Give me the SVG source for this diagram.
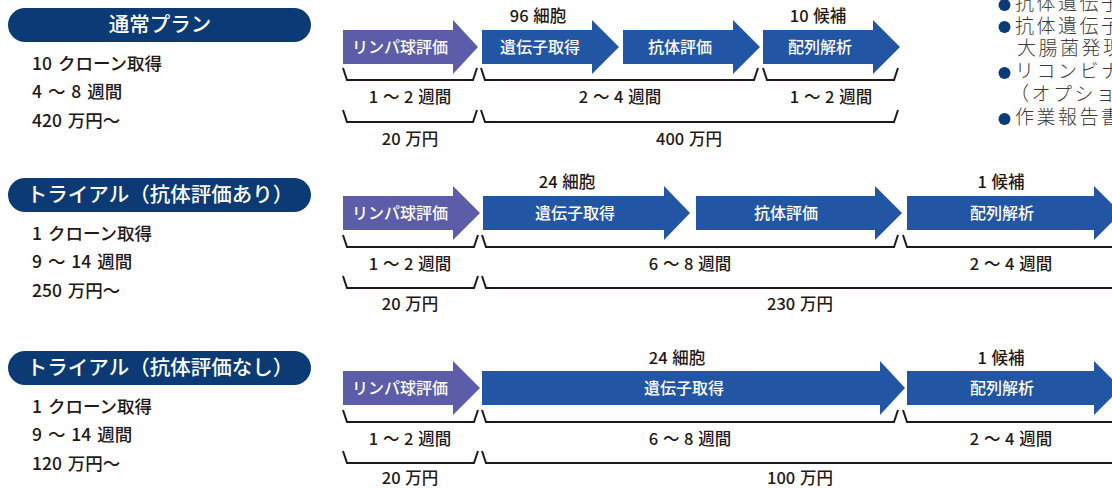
<svg xmlns="http://www.w3.org/2000/svg" width="1112" height="488" viewBox="0 0 1112 488">
<style>
text { font-family: "Noto Sans CJK JP", "Noto Sans", sans-serif; }
.pill { fill: #0b3a74; }
.pt { fill: #ffffff; font-size: 20.5px; font-weight: 500; text-anchor: middle; }
.info { fill: #231815; font-size: 17.5px; font-weight: 500; word-spacing: 2px; }
.purple { fill: #5c5ca8; }
.blue { fill: #2355a5; }
.al { fill: #ffffff; font-size: 16px; font-weight: 500; text-anchor: middle; }
.lb { fill: #231815; font-size: 16.5px; font-weight: 500; text-anchor: middle; word-spacing: 1px; }
.br { fill: none; stroke: #231815; stroke-width: 2; stroke-linejoin: miter; }
.side { fill: #3e3a39; font-size: 19px; letter-spacing: 2.5px; font-weight: 300; }
.dot { fill: #0b3a74; }
</style>

<!-- Row 1: 通常プラン -->
<g id="plan-standard">
  <rect class="pill" x="8" y="8" width="303" height="34" rx="17"/>
  <text class="pt" x="160" y="32">通常プラン</text>
  <text class="info" x="32" y="70">10 クローン取得</text>
  <text class="info" x="32" y="98">4 ～ 8 週間</text>
  <text class="info" x="32" y="127">420 万円～</text>
</g>
<g id="r1-lymph">
  <path class="purple" d="M343,30 L453,30 L453,20 L478,47 L453,74 L453,64 L343,64 Z"/>
  <text class="al" x="400" y="53">リンパ球評価</text>
</g>
<g id="r1-gene">
  <path class="blue" d="M482,30 L592,30 L592,20 L619,47 L592,74 L592,64 L482,64 Z"/>
  <text class="al" x="540" y="53">遺伝子取得</text>
  <text class="lb" x="538" y="22">96 細胞</text>
</g>
<g id="r1-ab">
  <path class="blue" d="M623,30 L733,30 L733,20 L760,47 L733,74 L733,64 L623,64 Z"/>
  <text class="al" x="680" y="53">抗体評価</text>
</g>
<g id="r1-seq">
  <path class="blue" d="M763,30 L873,30 L873,20 L900,47 L873,74 L873,64 L763,64 Z"/>
  <text class="al" x="820" y="53">配列解析</text>
  <text class="lb" x="818" y="22">10 候補</text>
</g>

<!-- Row 2 -->
<g id="plan-trial-ab">
  <rect class="pill" x="8" y="178" width="303" height="34" rx="17"/>
  <text class="pt" x="160" y="202">トライアル（抗体評価あり）</text>
  <text class="info" x="32" y="240">1 クローン取得</text>
  <text class="info" x="32" y="268">9 ～ 14 週間</text>
  <text class="info" x="32" y="297">250 万円～</text>
</g>
<g id="r2-lymph">
  <path class="purple" d="M343,196 L453,196 L453,186 L480,213 L453,240 L453,230 L343,230 Z"/>
  <text class="al" x="400" y="219">リンパ球評価</text>
</g>
<g id="r2-gene">
  <path class="blue" d="M483,196 L664,196 L664,186 L690,213 L664,240 L664,230 L483,230 Z"/>
  <text class="al" x="575" y="219">遺伝子取得</text>
  <text class="lb" x="567" y="188">24 細胞</text>
</g>
<g id="r2-ab">
  <path class="blue" d="M696,196 L875,196 L875,186 L902,213 L875,240 L875,230 L696,230 Z"/>
  <text class="al" x="786" y="219">抗体評価</text>
</g>
<g id="r2-seq">
  <path class="blue" d="M907,196 L1094,196 L1094,186 L1121,213 L1094,240 L1094,230 L907,230 Z"/>
  <text class="al" x="1002" y="219">配列解析</text>
  <text class="lb" x="1001" y="188">1 候補</text>
</g>

<!-- Row 3 -->
<g id="plan-trial-noab">
  <rect class="pill" x="8" y="351" width="303" height="34" rx="17"/>
  <text class="pt" x="160" y="375">トライアル（抗体評価なし）</text>
  <text class="info" x="32" y="413">1 クローン取得</text>
  <text class="info" x="32" y="441">9 ～ 14 週間</text>
  <text class="info" x="32" y="470">120 万円～</text>
</g>
<g id="r3-lymph">
  <path class="purple" d="M343,371 L453,371 L453,361 L480,388 L453,415 L453,405 L343,405 Z"/>
  <text class="al" x="400" y="394">リンパ球評価</text>
</g>
<g id="r3-gene">
  <path class="blue" d="M482,371 L880,371 L880,361 L905,388 L880,415 L880,405 L482,405 Z"/>
  <text class="al" x="684" y="394">遺伝子取得</text>
  <text class="lb" x="677" y="364">24 細胞</text>
</g>
<g id="r3-seq">
  <path class="blue" d="M907,371 L1094,371 L1094,361 L1121,388 L1094,415 L1094,405 L907,405 Z"/>
  <text class="al" x="1002" y="394">配列解析</text>
  <text class="lb" x="1001" y="364">1 候補</text>
</g>

<!-- Brackets -->
<g id="connectors">
  <path class="br" d="M343,68 L347,80 L473,80 L477,68"/>
  <path class="br" d="M481,68 L485,80 L754,80 L758,68"/>
  <path class="br" d="M763,68 L767,80 L894,80 L898,68"/>
  <path class="br" d="M343,110 L347,122 L473,122 L477,110"/>
  <path class="br" d="M481,110 L485,122 L894,122 L898,110"/>

  <path class="br" d="M343,235 L347,247 L474,247 L478,235"/>
  <path class="br" d="M482,235 L486,247 L894,247 L898,235"/>
  <path class="br" d="M903,235 L907,247 L1115,247"/>
  <path class="br" d="M343,276 L347,288 L474,288 L478,276"/>
  <path class="br" d="M482,276 L486,288 L1115,288"/>

  <path class="br" d="M343,410 L347,422 L474,422 L478,410"/>
  <path class="br" d="M482,410 L486,422 L894,422 L898,410"/>
  <path class="br" d="M903,410 L907,422 L1115,422"/>
  <path class="br" d="M343,451 L347,463 L474,463 L478,451"/>
  <path class="br" d="M482,451 L486,463 L1115,463"/>
</g>
<g id="bracket-labels">
  <text class="lb" x="410" y="103">1 ～ 2 週間</text>
  <text class="lb" x="620" y="103">2 ～ 4 週間</text>
  <text class="lb" x="831" y="103">1 ～ 2 週間</text>
  <text class="lb" x="410" y="145">20 万円</text>
  <text class="lb" x="689" y="145">400 万円</text>

  <text class="lb" x="410" y="270">1 ～ 2 週間</text>
  <text class="lb" x="690" y="270">6 ～ 8 週間</text>
  <text class="lb" x="1011" y="270">2 ～ 4 週間</text>
  <text class="lb" x="410" y="310">20 万円</text>
  <text class="lb" x="800" y="310">230 万円</text>

  <text class="lb" x="410" y="445">1 ～ 2 週間</text>
  <text class="lb" x="690" y="445">6 ～ 8 週間</text>
  <text class="lb" x="1011" y="445">2 ～ 4 週間</text>
  <text class="lb" x="410" y="484">20 万円</text>
  <text class="lb" x="800" y="484">100 万円</text>
</g>

<!-- Right column list (cut off at canvas edge, as in the reference) -->
<g id="deliverables">
  <circle class="dot" cx="1004.5" cy="5" r="6"/>
  <text class="side" x="1015" y="10">抗体遺伝子</text>
  <circle class="dot" cx="1004.5" cy="27" r="6"/>
  <text class="side" x="1015" y="33">抗体遺伝子</text>
  <text class="side" x="1017" y="55">大腸菌発現</text>
  <circle class="dot" cx="1004.5" cy="73" r="6"/>
  <text class="side" x="1015" y="78">リコンビナ</text>
  <text class="side" x="1010" y="101">（オプショ</text>
  <circle class="dot" cx="1004.5" cy="119" r="6"/>
  <text class="side" x="1015" y="124">作業報告書</text>
</g>
</svg>
